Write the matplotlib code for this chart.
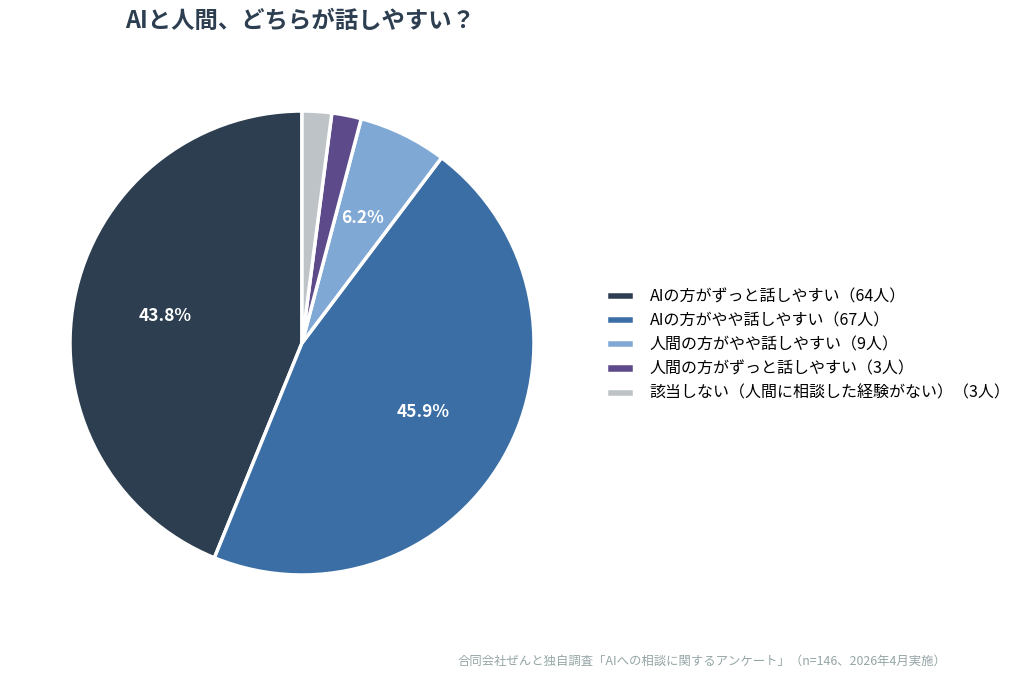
import matplotlib.pyplot as plt

plt.rcParams['font.family'] = ['Noto Sans CJK JP', 'DejaVu Sans']

labels = [
    'AIの方がずっと話しやすい（64人）',
    'AIの方がやや話しやすい（67人）',
    '人間の方がやや話しやすい（9人）',
    '人間の方がずっと話しやすい（3人）',
    '該当しない（人間に相談した経験がない）（3人）',
]
counts = [64, 67, 9, 3, 3]
colors = ['#2c3e50', '#3b6ea5', '#7fa8d4', '#5d4a8a', '#bdc3c7']

title = 'AIと人間、どちらが話しやすい？'
source = '合同会社ぜんと独自調査「AIへの相談に関するアンケート」（n=146、2026年4月実施）'


def pct_label(p):
    return f'{p:.1f}%' if p >= 5 else ''


fig = plt.figure(figsize=(10.24, 6.8), dpi=100)
ax = fig.add_axes([70 / 1024, 105 / 680, 464 / 1024, 464 / 680])

wedges, texts, autotexts = ax.pie(
    counts,
    colors=colors,
    startangle=90,
    counterclock=True,
    autopct=pct_label,
    pctdistance=0.6,
    wedgeprops=dict(edgecolor='white', linewidth=2.5),
    textprops=dict(color='white', fontsize=12.5, fontweight='bold'),
)
ax.set_xlim(-1.0, 1.0)
ax.set_ylim(-1.0, 1.0)
ax.set_aspect('equal')

fig.text(300 / 1024, 1 - 21 / 680, title, ha='center', va='center',
         fontsize=16.8, fontweight='bold', color='#2c3e50')

fig.legend(wedges, labels, loc='center left',
           bbox_to_anchor=(592 / 1024, 335 / 680),
           frameon=False, fontsize=11.5, handlelength=1.75, handleheight=0.5,
           labelspacing=0.45, handletextpad=0.95)

fig.text(946 / 1024, 1 - 661 / 680, source, ha='right', va='center',
         fontsize=8.9, color='#95a5a6')

fig.savefig('out.png', dpi=100)
